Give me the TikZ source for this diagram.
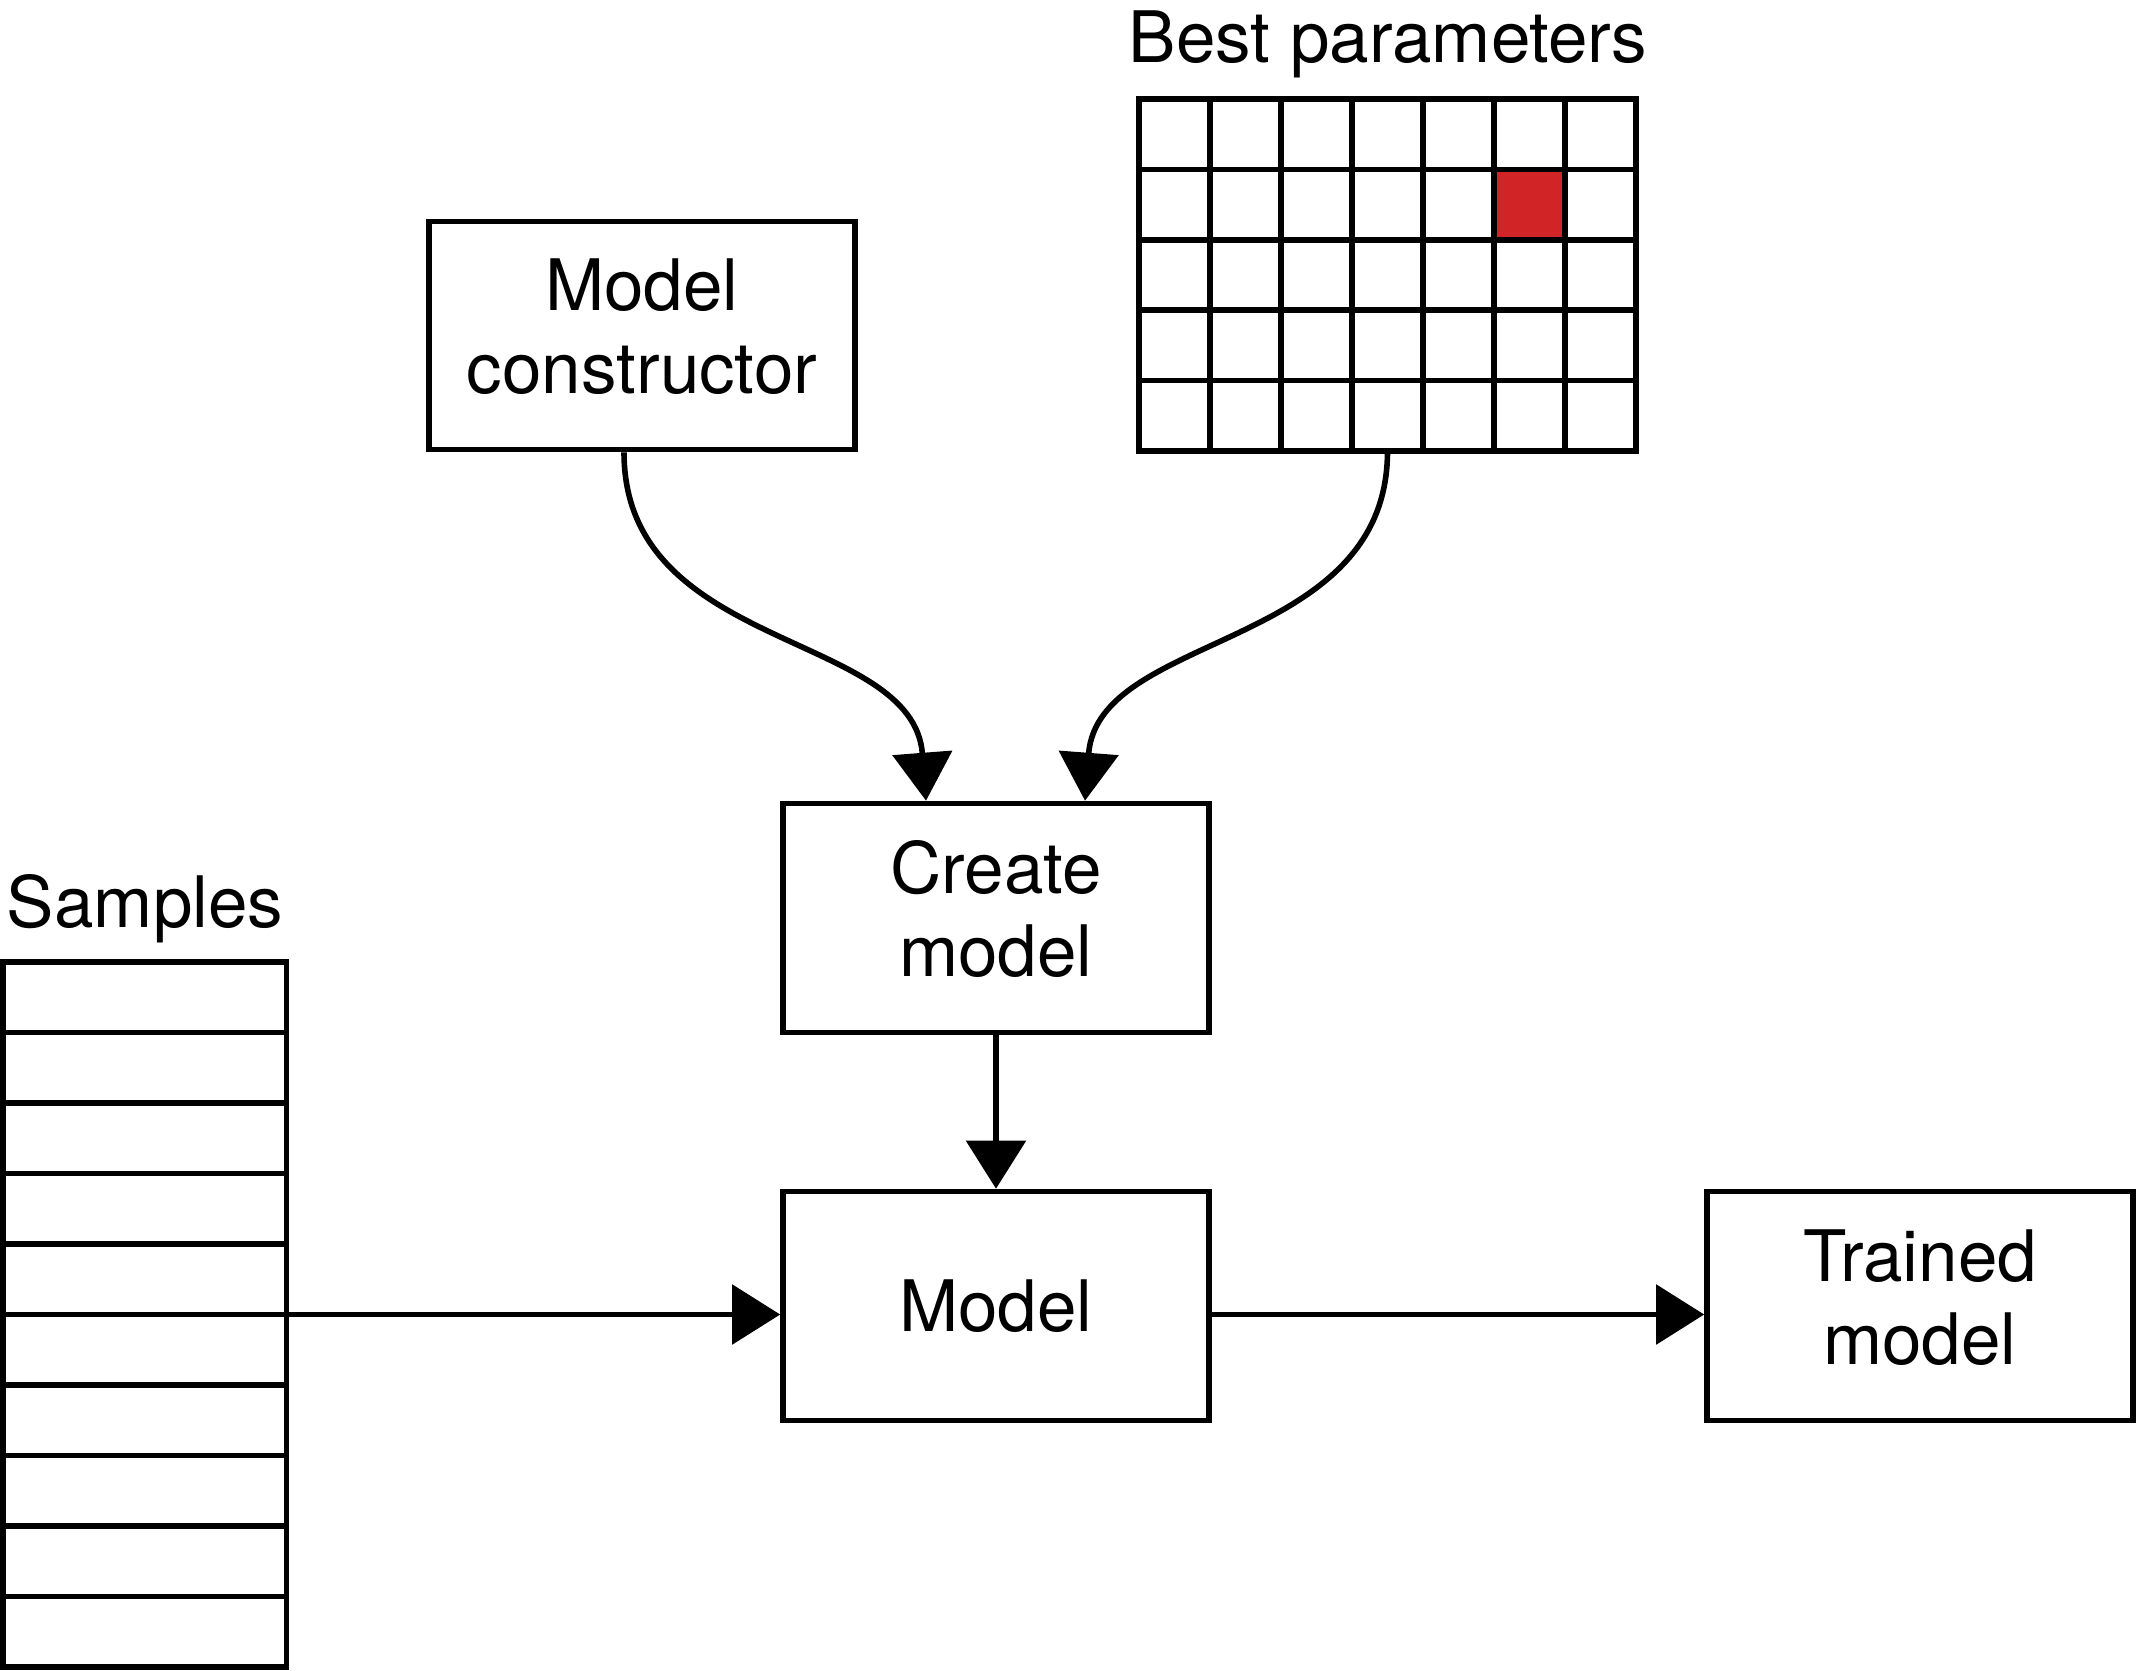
\documentclass[tikz,border=0pt]{standalone}
\usepackage{fontspec}
\setmainfont{TeX Gyre Heros}
\usetikzlibrary{arrows.meta,calc}
\definecolor{cellred}{HTML}{D12427}
\begin{document}
\begin{tikzpicture}[x=0.5pt,y=-0.5pt,
  line width=2.8pt,
  every node/.style={font=\fontsize{35.5}{41.5}\selectfont, inner sep=0pt},
  box/.style={draw, rectangle, minimum width=213pt, minimum height=114.5pt},
  flow/.style={-{Triangle[length=24pt,width=29.5pt]}},
  lbl/.style={anchor=base},
  listbox/.style={draw, rectangle, outer sep=0pt},
]
\useasboundingbox (0,0) rectangle (2140,1670);

% boxes
\node[box, minimum height=114pt] (mc) at (642,335.5) {\begin{tabular}{@{}c@{}}Model\\constructor\end{tabular}};
\node[box] (create) at (996,918) {\begin{tabular}{@{}c@{}}Create\\model\end{tabular}};
\node[box] (model) at (996,1306) {Model};
\node[box] (trained) at (1920,1306) {\begin{tabular}{@{}c@{}}Trained\\model\end{tabular}};

% parameter grid
\fill[cellred] (1494,169.4) rectangle (1565,239.8);
\node[listbox, minimum width=248.5pt, minimum height=176pt] (grid) at (1387.5,275) {};
\foreach \i in {1,...,6} \draw (1139+71*\i,99) -- (1139+71*\i,451);
\foreach \j in {1,...,4} \draw (1139,99+70.4*\j) -- (1636,99+70.4*\j);
\node[lbl] (bplabel) at (1388,62) {Best parameters};

% samples list
\node[listbox, minimum width=141.85pt, minimum height=352.5pt] (samples) at (144.65,1314.5) {};
\foreach \k in {1,...,9} \draw (2.8,962+70.5*\k) -- (286.5,962+70.5*\k);
\node[lbl] (slabel) at (145,927) {Samples};

% connectors
\draw[flow] (samples.east) -- (model.west |- samples.east);
\draw[flow] (model.east |- samples.east) -- (trained.west |- samples.east);
\draw[flow] (create.south) -- (model.north);
\draw[flow] ($(mc.south)+(-18,0)$) .. controls +(0,200) and +(-13,-170) .. ($(create.north)+(-70,0)$);
\draw[flow] (grid.south) .. controls +(0,200) and +(13,-170) .. ($(create.north)+(89,0)$);
\end{tikzpicture}
\end{document}
